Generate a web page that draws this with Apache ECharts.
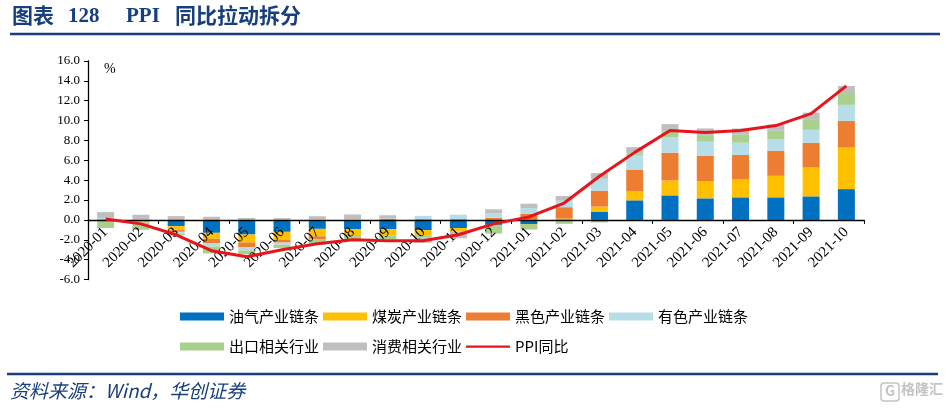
<!DOCTYPE html>
<html><head><meta charset="utf-8">
<script src="https://cdn.jsdelivr.net/npm/echarts@6/dist/echarts.min.js"></script>
<style>html,body{margin:0;padding:0;background:#fff}#c{width:949px;height:411px}</style>
</head><body><div id="c"></div>
<script>
const categories = ['2020-01','2020-02','2020-03','2020-04','2020-05','2020-06','2020-07','2020-08','2020-09','2020-10','2020-11','2020-12',
  '2021-01','2021-02','2021-03','2021-04','2021-05','2021-06','2021-07','2021-08','2021-09','2021-10'];
const oilChain = [0.05,-0.05,-0.63,-1.3,-1.47,-1.2,-0.9,-0.92,-0.92,-1.03,-0.82,-0.5,-0.45,0.05,0.84,1.97,2.47,2.17,2.27,2.27,2.37,3.1];
const coalChain = [-0.1,-0.2,-0.4,-0.6,-0.8,-0.78,-0.75,-0.64,-0.62,-0.58,-0.33,-0.12,-0.05,0.08,0.5,0.9,1.5,1.7,1.8,2.17,2.9,4.18];
const ferrousChain = [0,-0.02,-0.17,-0.45,-0.5,-0.3,-0.32,-0.05,0.1,0.08,0.08,0.22,0.63,1.15,1.6,2.2,2.8,2.6,2.47,2.53,2.5,2.7];
const nonferrousChain = [0.15,0.02,-0.17,-0.33,-0.3,-0.22,0.05,0.05,0.02,0.33,0.45,0.45,0.55,0.65,1.2,1.4,1.57,1.4,1.23,1.17,1.3,1.6];
const exportRelated = [-0.72,-0.73,-0.2,-0.7,-0.4,-0.33,-0.55,-0.45,-0.4,-0.15,-0.05,-0.75,-0.47,-0.4,-0.25,0.23,0.53,0.67,0.83,0.83,1.0,1.1];
const consumerRelated = [0.58,0.5,0.38,0.32,0.2,0.18,0.32,0.5,0.35,-0.55,-0.65,0.4,0.45,0.48,0.57,0.63,0.77,0.67,0.6,0.63,0.73,0.8];
const ppiYoY = [0.1,-0.4,-1.5,-3.1,-3.7,-3.0,-2.4,-2.0,-2.1,-2.1,-1.5,-0.4,0.3,1.7,4.4,6.8,9.0,8.8,9.0,9.5,10.7,13.5];
const yTicks = {min:-6, max:16, interval:2};

const barSeries = [
  ['油气产业链条', oilChain, '#0070c0'],
  ['煤炭产业链条', coalChain, '#ffc000'],
  ['黑色产业链条', ferrousChain, '#ed7d31'],
  ['有色产业链条', nonferrousChain, '#b7dde8'],
  ['出口相关行业', exportRelated, '#a9d18e'],
  ['消费相关行业', consumerRelated, '#bfbfbf']
];
const serif = '"Liberation Serif","Times New Roman",serif';
const cjk = '"Noto Sans CJK SC","Noto Sans",sans-serif';
const navy = '#173f7d';

const gridTop = 61, gridBottom = 131.5, H = 411;
const plotH = H - gridTop - gridBottom;
// distance from bottom edge of grid to the zero line, used to move the label axis onto y=0
const zeroOffset = plotH * (0 - yTicks.min) / (yTicks.max - yTicks.min);

const chart = echarts.init(document.getElementById('c'), null, {renderer:'canvas'});
const series = barSeries.map(([name, data, color]) => ({
  name, type:'bar', stack:'total', data, barWidth:17,
  itemStyle:{color}, z:2, animation:false
}));
series.push({
  name:'PPI同比', type:'line', data:ppiYoY, symbol:'none', z:8,
  lineStyle:{color:'#e8141c', width:3}, itemStyle:{color:'#e8141c'}, animation:false
});

const lineIcon = 'path://M0,0L0.01,0L0.01,0.01Z M0,3L44,3L44,5.2L0,5.2Z M44,8L43.99,8L43.99,7.99Z';

chart.setOption({
  animation:false,
  backgroundColor:'#fff',
  grid:{left:88, right:85, top:gridTop, bottom:gridBottom, containLabel:false},
  legend:[
    {data:barSeries.slice(0,4).map(s=>({name:s[0], icon:'rect'})), left:180, top:309, padding:0,
     itemWidth:44, itemHeight:8, itemGap:4, textStyle:{fontSize:15, color:'#000', fontFamily:cjk}},
    {data:[{name:'出口相关行业', icon:'rect'},{name:'消费相关行业', icon:'rect'},{name:'PPI同比', icon:lineIcon}], left:180, top:339, padding:0,
     itemWidth:44, itemHeight:8, itemGap:4, textStyle:{fontSize:15, color:'#000', fontFamily:cjk}}
  ],
  xAxis:[{
    type:'category', data:categories, z:5,
    axisLine:{onZero:true, lineStyle:{color:'#000', width:1.3}},
    axisTick:{show:true, length:4, lineStyle:{color:'#000'}},
    axisLabel:{show:false},
    splitLine:{show:false}
  },{
    type:'category', data:categories, z:6, position:'bottom', offset:-zeroOffset,
    axisLine:{show:false, onZero:false}, axisTick:{show:false},
    axisLabel:{rotate:45, interval:0, margin:10, fontSize:15, color:'#000', fontFamily:serif},
    splitLine:{show:false}
  }],
  yAxis:{
    type:'value', min:yTicks.min, max:yTicks.max, interval:yTicks.interval,
    axisLine:{show:true, lineStyle:{color:'#000', width:1.3}},
    axisTick:{show:true, length:4, lineStyle:{color:'#000'}},
    axisLabel:{fontSize:13, color:'#000', fontFamily:serif, margin:8, formatter:v=>v.toFixed(1)},
    splitLine:{show:false}
  },
  series,
  graphic:[
    {type:'text', left:12, top:5, style:{text:'图表', font:'bold 21px '+cjk, fill:navy}},
    {type:'text', left:68, top:6, style:{text:'128', font:'bold 21px '+serif, fill:navy}},
    {type:'text', left:126, top:6, style:{text:'PPI', font:'bold 21px '+serif, fill:navy}},
    {type:'text', left:175, top:5, style:{text:'同比拉动拆分', font:'bold 21px '+cjk, fill:navy}},
    {type:'line', shape:{x1:10, y1:34, x2:940, y2:34}, style:{stroke:navy, lineWidth:2.5}},
    {type:'text', left:104, top:62, style:{text:'%', font:'14px '+serif, fill:'#000'}},
    {type:'line', shape:{x1:7, y1:374, x2:938, y2:374}, style:{stroke:navy, lineWidth:2.5}},
    {type:'text', left:10, top:381, style:{text:'资料来源：Wind，华创证券', font:'italic 19px '+cjk, fill:navy}},
    {type:'rect', shape:{x:881, y:383, width:18, height:18, r:3}, style:{fill:'none', stroke:'#c4c4c4', lineWidth:1.5}},
    {type:'text', left:885, top:384, style:{text:'G', font:'bold 14px '+cjk, fill:'#c4c4c4'}},
    {type:'text', left:901, top:382, style:{text:'格隆汇', font:'bold 14px '+cjk, fill:'#c4c4c4'}}
  ]
});
</script>
</body></html>
